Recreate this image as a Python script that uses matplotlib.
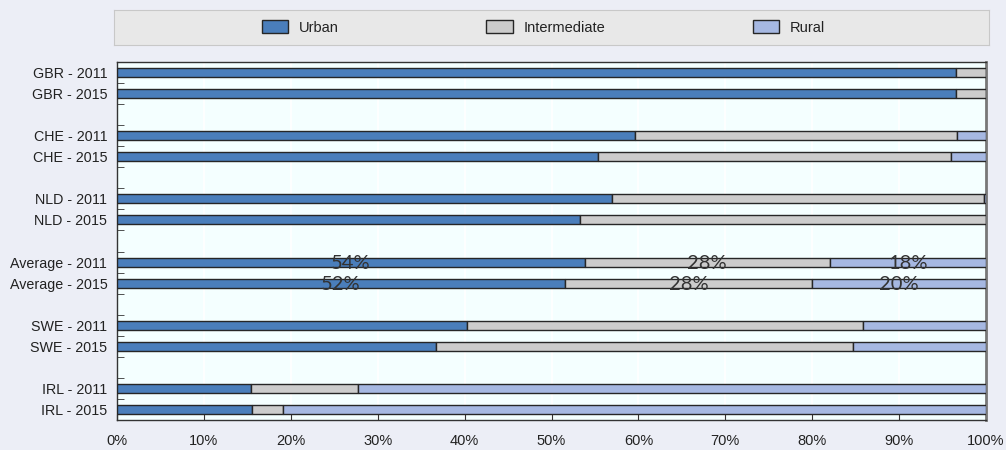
import numpy as np
import matplotlib.pyplot as plt
from matplotlib.patches import Patch

# data (shares in %)
labels = ['GBR - 2011', 'GBR - 2015', 'CHE - 2011', 'CHE - 2015',
          'NLD - 2011', 'NLD - 2015', 'Average - 2011', 'Average - 2015',
          'SWE - 2011', 'SWE - 2015', 'IRL - 2011', 'IRL - 2015']
urban = [96.6, 96.5, 59.6, 55.4, 57.0, 53.3, 53.8, 51.6, 40.3, 36.7, 15.4, 15.5]
intermediate = [3.4, 3.5, 37.1, 40.6, 42.8, 46.7, 28.2, 28.4, 45.5, 48.0, 12.3, 3.6]
rural = [0.0, 0.0, 3.3, 4.0, 0.2, 0.0, 18.0, 20.0, 14.2, 15.3, 72.3, 80.9]
series_names = ['Urban', 'Intermediate', 'Rural']
annotated = ['Average - 2011', 'Average - 2015']

colors = ['#4A7EBB', '#CCCCCC', '#A6B8E2']
edge = '#262626'

# two bars per country, one empty slot between countries
pos = []
for i in range(len(labels)):
    pos.append(i + i // 2)
pos = np.array(pos)

fig = plt.figure(figsize=(10.06, 4.5), dpi=100)
fig.patch.set_facecolor('#ECEEF6')
plt.rcParams['font.family'] = ['Liberation Sans', 'DejaVu Sans']

ax = fig.add_axes([117 / 1006, 1 - 420 / 450, (986 - 117) / 1006, (420 - 62) / 450])
ax.set_facecolor('#F4FFFF')

left = np.zeros(len(labels))
for vals, col in zip([urban, intermediate, rural], colors):
    vals = np.array(vals)
    ax.barh(pos, vals, left=left, height=0.43, color=col, edgecolor=edge,
            linewidth=1.0, zorder=3)
    for lab, p, l, v in zip(labels, pos, left, vals):
        if lab in annotated:
            ax.text(l + v / 2, p + 0.05, '{:.0f}%'.format(v), ha='center', va='center',
                    fontsize=14.5, color='#333333', family=['Lato', 'DejaVu Sans'],
                    zorder=4)
    left = left + vals

ax.set_xlim(0, 100)
ax.set_ylim(pos.max() + 0.5, -0.5)
ax.set_xticks(np.arange(0, 101, 10))
ax.set_xticklabels(['{}%'.format(t) for t in range(0, 101, 10)])
ax.set_yticks(pos)
ax.set_yticklabels(labels)
ax.set_yticks(np.arange(0.5, pos.max(), 1.0), minor=True)
ax.tick_params(axis='y', which='major', length=0, pad=7, labelsize=10.3, labelcolor='#222222')
ax.tick_params(axis='y', which='minor', direction='in', length=5, color='#333333')
ax.tick_params(axis='x', which='major', direction='in', length=4, color='#333333',
               pad=10, labelsize=10.5, labelcolor='#222222')
ax.grid(axis='x', color='white', linewidth=1.2, zorder=0)
ax.set_axisbelow(True)

for s in ['left', 'bottom', 'top']:
    ax.spines[s].set_color('#333333')
    ax.spines[s].set_linewidth(1.0)
ax.spines['right'].set_color('#777777')
ax.spines['right'].set_linewidth(2.0)

# legend panel on top
lax = fig.add_axes([114 / 1006, 1 - 45 / 450, (989 - 114) / 1006, 35 / 450])
lax.set_facecolor('#E8E8E8')
lax.set_xticks([])
lax.set_yticks([])
for s in lax.spines.values():
    s.set_color('#C8C8C8')
handles = [Patch(facecolor=c, edgecolor=edge, linewidth=1.0) for c in colors]
lax.legend(handles, series_names, loc='center', bbox_to_anchor=(0.5 - 8 / 875, 0.5),
           ncol=3, frameon=False, fontsize=10.5, handlelength=1.8, handleheight=1.0,
           handletextpad=0.75, columnspacing=10.1, labelcolor='#222222')

fig.savefig('out.png', dpi=100, facecolor=fig.get_facecolor())
